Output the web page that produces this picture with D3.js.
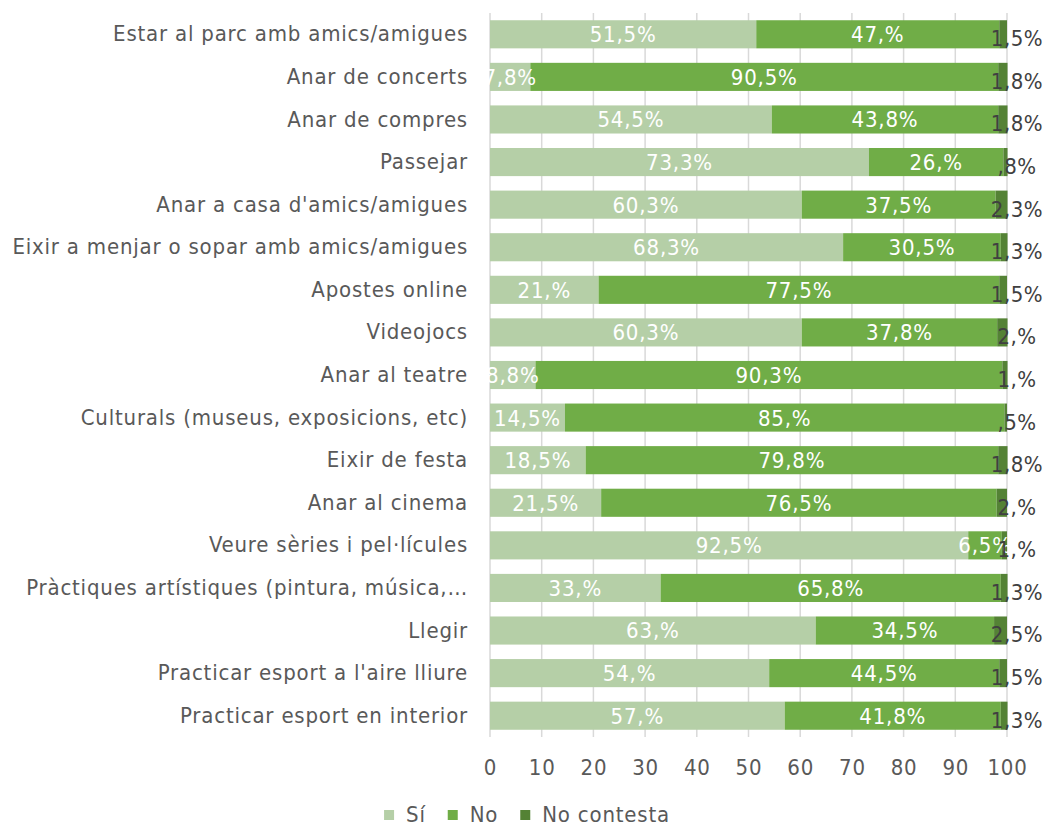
<!DOCTYPE html>
<html>
<head>
<meta charset="utf-8">
<script src="https://cdn.jsdelivr.net/npm/d3@7"></script>
<style>
  body { margin: 0; background: #fff; }
  svg text { font-family: "DejaVu Sans Condensed", "DejaVu Sans", sans-serif; letter-spacing: 0.8px; }
</style>
</head>
<body>
<div id="root"></div>
<script>
const categories = [
    "Estar al parc amb amics/amigues",
    "Anar de concerts",
    "Anar de compres",
    "Passejar",
    "Anar a casa d'amics/amigues",
    "Eixir a menjar o sopar amb amics/amigues",
    "Apostes online",
    "Videojocs",
    "Anar al teatre",
    "Culturals (museus, exposicions, etc)",
    "Eixir de festa",
    "Anar al cinema",
    "Veure sèries i pel·lícules",
    "Pràctiques artístiques (pintura, música,…",
    "Llegir",
    "Practicar esport a l'aire lliure",
    "Practicar esport en interior"
];

const si = [51.5, 7.8, 54.5, 73.3, 60.3, 68.3, 21.0, 60.3, 8.8, 14.5, 18.5, 21.5, 92.5, 33.0, 63.0, 54.0, 57.0];
const no = [47.0, 90.5, 43.8, 26.0, 37.5, 30.5, 77.5, 37.8, 90.3, 85.0, 79.8, 76.5, 6.5, 65.8, 34.5, 44.5, 41.8];
const noContesta = [1.5, 1.8, 1.8, 0.8, 2.3, 1.3, 1.5, 2.0, 1.0, 0.5, 1.8, 2.0, 1.0, 1.3, 2.5, 1.5, 1.3];

const seriesNames = ["Sí", "No", "No contesta"];
const seriesKeys = ["si", "no", "nc"];
const colors = ["#b5cfa7", "#70ad47", "#548235"];
const xTicks = [0, 10, 20, 30, 40, 50, 60, 70, 80, 90, 100];

const outerWidth = 1045;
const outerHeight = 828;
const margin = { top: 13, right: 38, bottom: 91, left: 490 };
const width = outerWidth - margin.left - margin.right;
const height = outerHeight - margin.top - margin.bottom;

const fontSize = 22;

let rows = categories.map((c, i) => ({ cat: c, si: si[i], no: no[i], nc: noContesta[i] }));

let scaleX = d3.scaleLinear().domain([0, 100]).range([0, width]);
let scaleY = d3.scaleBand().domain(categories).range([0, height]).paddingInner(0.34).paddingOuter(0.17);

// Excel style "#,#%" format: 47.0 -> "47,%", 0.8 -> ",8%"
function fmt(v) {
    let s = v.toFixed(1).replace(".", ",");
    s = s.replace(/,0$/, ",");
    s = s.replace(/^0,/, ",");
    return s + "%";
}

let svg = d3.select("#root")
            .append("svg")
            .attr("width", outerWidth)
            .attr("height", outerHeight);

let chart = svg.append("g")
               .attr("transform", `translate(${margin.left}, ${margin.top})`);

// gridlines
chart.append("g")
     .selectAll("line")
     .data(xTicks)
     .enter().append("line")
     .attr("x1", d => scaleX(d))
     .attr("x2", d => scaleX(d))
     .attr("y1", 0)
     .attr("y2", height)
     .attr("stroke", "#d9d9d9")
     .attr("stroke-width", 1.5);

let stacked = d3.stack().keys(seriesKeys)(rows);

let layer = chart.selectAll(".layer")
                 .data(stacked)
                 .enter().append("g")
                 .attr("class", "layer")
                 .attr("fill", (d, i) => colors[i]);

layer.selectAll("rect")
     .data(d => d)
     .enter().append("rect")
     .attr("x", d => scaleX(d[0]))
     .attr("y", d => scaleY(d.data.cat))
     .attr("width", d => scaleX(d[1]) - scaleX(d[0]))
     .attr("height", scaleY.bandwidth());

// labels for Sí and No, centered in the segment
stacked.slice(0, 2).forEach(s => {
    chart.append("g")
         .selectAll("text")
         .data(s)
         .enter().append("text")
         .attr("x", d => scaleX((d[0] + d[1]) / 2))
         .attr("y", d => scaleY(d.data.cat) + scaleY.bandwidth() / 2)
         .attr("dy", "0.36em")
         .attr("text-anchor", "middle")
         .attr("fill", "#ffffff")
         .style("font-size", fontSize + "px")
         .text(d => fmt(d[1] - d[0]));
});

// No contesta labels, pushed to the right of the bar end
chart.append("g")
     .selectAll("text")
     .data(stacked[2])
     .enter().append("text")
     .attr("x", scaleX(100) + 10)
     .attr("y", d => scaleY(d.data.cat) + scaleY.bandwidth() / 2 + 4)
     .attr("dy", "0.36em")
     .attr("text-anchor", "middle")
     .attr("fill", "#404040")
     .style("font-size", fontSize + "px")
     .style("letter-spacing", "0.5px")
     .text(d => fmt(d[1] - d[0]));

// category axis
let yAxis = d3.axisLeft(scaleY).tickSize(0).tickPadding(22);
chart.append("g")
     .attr("class", "y axis")
     .call(yAxis)
     .call(g => g.select(".domain").remove())
     .selectAll("text")
     .attr("fill", "#595959")
     .style("font-size", fontSize + "px");

// value axis
let xAxis = d3.axisBottom(scaleX).tickValues(xTicks).tickSize(0).tickPadding(22).tickFormat(d3.format("d"));
chart.append("g")
     .attr("class", "x axis")
     .attr("transform", `translate(0, ${height})`)
     .call(xAxis)
     .call(g => g.select(".domain").remove())
     .selectAll("text")
     .attr("fill", "#595959")
     .style("font-size", fontSize + "px");

// legend
let legend = svg.append("g").attr("class", "legend");
let lx = 0;
seriesNames.forEach((name, i) => {
    let item = legend.append("g").attr("transform", `translate(${lx}, 0)`);
    item.append("rect")
        .attr("x", 0)
        .attr("y", -5)
        .attr("width", 10)
        .attr("height", 10)
        .attr("fill", colors[i]);
    let t = item.append("text")
        .attr("x", 22)
        .attr("y", 0)
        .attr("dy", "0.34em")
        .attr("fill", "#595959")
        .style("font-size", fontSize + "px")
        .text(name);
    lx += 22 + t.node().getComputedTextLength() + 22;
});
let legendWidth = lx - 22;
legend.attr("transform", `translate(${527 - legendWidth / 2}, 815)`);
</script>
</body>
</html>
